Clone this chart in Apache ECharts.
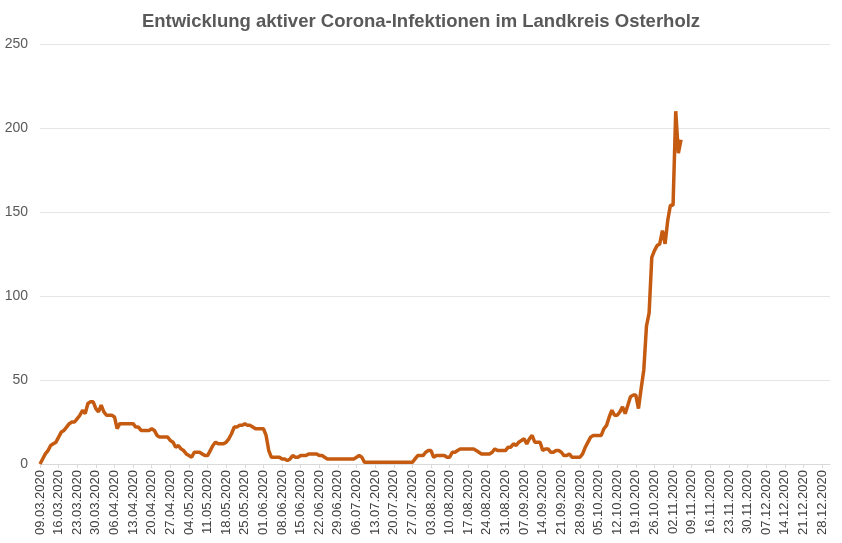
<!DOCTYPE html>
<html><head><meta charset="utf-8">
<script src="https://cdn.jsdelivr.net/npm/echarts@6/dist/echarts.min.js"></script>
<style>html,body{margin:0;padding:0;background:#fff}#c{width:842px;height:543px}</style>
</head><body><div id="c"></div>
<script>
const title = 'Entwicklung aktiver Corona-Infektionen im Landkreis Osterholz';
const startDate = [2020, 2, 9];
const endDate = [2020, 11, 31];
const yTicks = [0, 50, 100, 150, 200, 250];
const activeCases = [
 0,3,6,8,11,12,13,
 16,19,20,22,24,25,25,
 27,29,32,30,36,37,37,
 33,31,35,31,29,29,29,
 28,21,24,24,24,24,24,
 24,22,22,20,20,20,20,
 21,20,17,16,16,16,16,
 14,13,10,11,9,8,6,
 5,4,7,7,7,6,5,
 5,8,11,13,12,12,12,
 13,15,18,22,22,23,23,
 24,23,23,22,21,21,21,
 21,17,8,4,4,4,4,
 3,3,2,3,5,4,4,
 5,5,5,6,6,6,6,
 5,5,4,3,3,3,3,
 3,3,3,3,3,3,3,
 4,5,4,1,1,1,1,
 1,1,1,1,1,1,1,
 1,1,1,1,1,1,1,
 1,3,5,5,5,7,8,
 8,4,5,5,5,5,4,
 4,7,7,8,9,9,9,
 9,9,9,8,7,6,6,
 6,6,7,9,8,8,8,
 8,10,10,12,11,13,14,
 15,12,15,17,13,13,13,
 8,9,9,7,7,8,8,
 7,5,5,6,4,4,4,
 4,6,10,13,16,17,17,
 17,17,21,23,28,32,29,
 29,31,34,30,35,40,41,
 41,33,45,56,82,90,123,
 127,130,131,139,131,145,154,
 154,210,185,193
];
const categories = [];
{
  const d = new Date(Date.UTC(...startDate));
  const e = new Date(Date.UTC(...endDate));
  while (d <= e) {
    const dd = String(d.getUTCDate()).padStart(2,'0');
    const mm = String(d.getUTCMonth()+1).padStart(2,'0');
    categories.push(dd + '.' + mm + '.' + d.getUTCFullYear());
    d.setUTCDate(d.getUTCDate()+1);
  }
}
const chart = echarts.init(document.getElementById('c'));
chart.setOption({
  animation: false,
  title: { text: title, left: 'center', top: 7,
    textStyle: { fontFamily: 'Liberation Sans, Arial', fontSize: 18.5, fontWeight: 'bold', color: '#595959' } },
  grid: { left: 40, right: 12, top: 44, bottom: 79, containLabel: false },
  xAxis: { type: 'category', data: categories, boundaryGap: false,
    axisLine: { lineStyle: { color: '#d9d9d9' } },
    axisTick: { show: true, interval: 6, length: 4, lineStyle: { color: '#d9d9d9' } },
    axisLabel: { interval: 6, rotate: 90, fontFamily: 'Liberation Sans, Arial', fontSize: 13, color: '#404040', margin: 6 },
    splitLine: { show: false } },
  yAxis: { type: 'value', min: yTicks[0], max: yTicks[yTicks.length-1], interval: 50,
    axisLine: { show: false }, axisTick: { show: false },
    axisLabel: { fontFamily: 'Liberation Sans, Arial', fontSize: 14, color: '#595959', margin: 12 },
    splitLine: { lineStyle: { color: '#e6e6e6' } } },
  series: [{ type: 'line', data: activeCases, showSymbol: false,
    lineStyle: { color: '#C55A11', width: 3.5 }, itemStyle: { color: '#C55A11' } }]
});
</script></body></html>
